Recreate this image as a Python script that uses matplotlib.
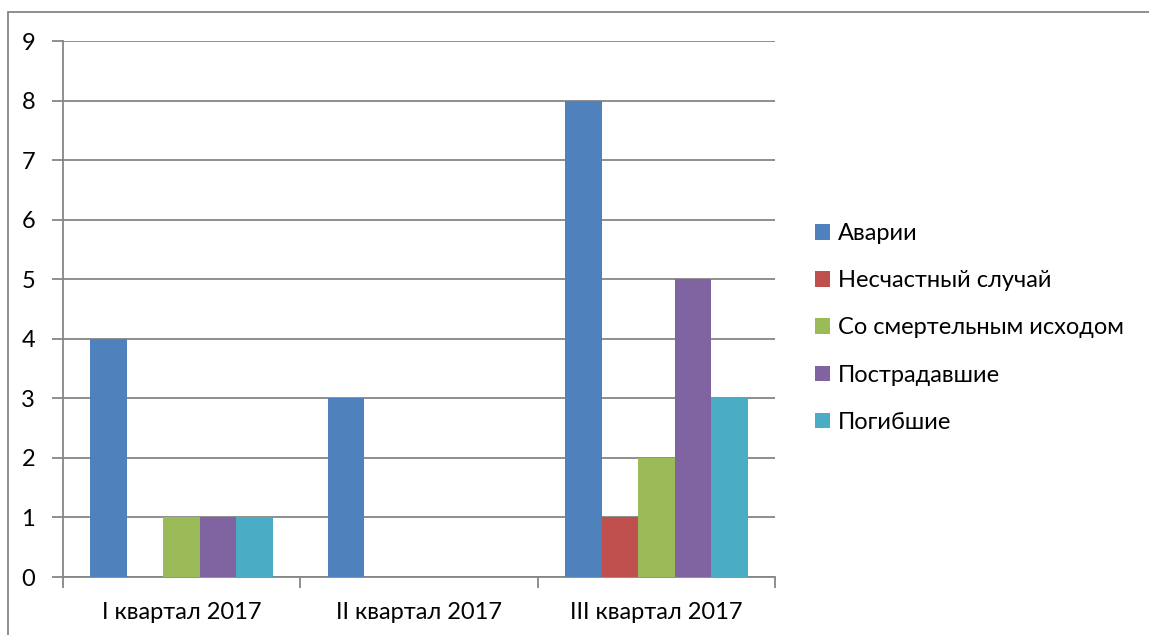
import numpy as np
import matplotlib.pyplot as plt
from matplotlib.patches import Rectangle

plt.rcParams['font.family'] = ['Lato', 'DejaVu Sans']

categories = ["I квартал 2017", "II квартал 2017", "III квартал 2017"]
series_names = ["Аварии", "Несчастный случай", "Со смертельным исходом",
                "Пострадавшие", "Погибшие"]
avarii = [4, 3, 8]
neschastny = [0, 0, 1]
smert = [1, 0, 2]
postradav = [1, 0, 5]
pogib = [1, 0, 3]
series = [avarii, neschastny, smert, postradav, pogib]
colors = ["#4F81BD", "#C0504D", "#9BBB59", "#8064A2", "#4BACC6"]
grid_c = "#868686"
FS = 17

W, H = 1149, 635
fig = plt.figure(figsize=(W / 100, H / 100), dpi=100)
ax = fig.add_axes([63 / W, 1 - 577 / H, (775 - 63) / W, (577 - 41) / H])

x = np.arange(len(categories))
n = len(series)
w = 1.0 / (n + 1.5)
for i, (vals, name, c) in enumerate(zip(series, series_names, colors)):
    ax.bar(x + (i - (n - 1) / 2) * w, vals, width=w, color=c, label=name,
           zorder=3, linewidth=0)

ax.set_xlim(-0.5, len(categories) - 0.5)
ax.set_ylim(0, 9)
ax.set_yticks(range(10))
ax.yaxis.grid(True, color=grid_c, linewidth=1.3, zorder=0)
ax.tick_params(axis='y', length=8, width=1.3, color=grid_c, pad=12, labelsize=FS)

ax.set_xticks(x)
ax.set_xticklabels(categories)
ax.set_xticks(np.arange(-0.5, len(categories)), minor=True)
ax.tick_params(axis='x', which='major', length=0, pad=18, labelsize=FS)
ax.tick_params(axis='x', which='minor', length=8, width=1.3, color=grid_c)

for s in ['top', 'right']:
    ax.spines[s].set_visible(False)
for s in ['left', 'bottom']:
    ax.spines[s].set_color(grid_c)
    ax.spines[s].set_linewidth(1.3)

# outer chart border (cut off on right and bottom)
fig.patches.append(Rectangle((8 / W, -0.1), 1.2, 1 - 12 / H + 0.1,
                             transform=fig.transFigure, fill=False,
                             edgecolor=grid_c, linewidth=1.3))

fig.legend(loc='upper left', bbox_to_anchor=(815 / W, 1 - 223 / H),
           frameon=False, fontsize=FS, handlelength=0.64, handleheight=0.64,
           handletextpad=0.34, labelspacing=1.11, borderpad=0, borderaxespad=0)

fig.savefig("out.png", dpi=100)
